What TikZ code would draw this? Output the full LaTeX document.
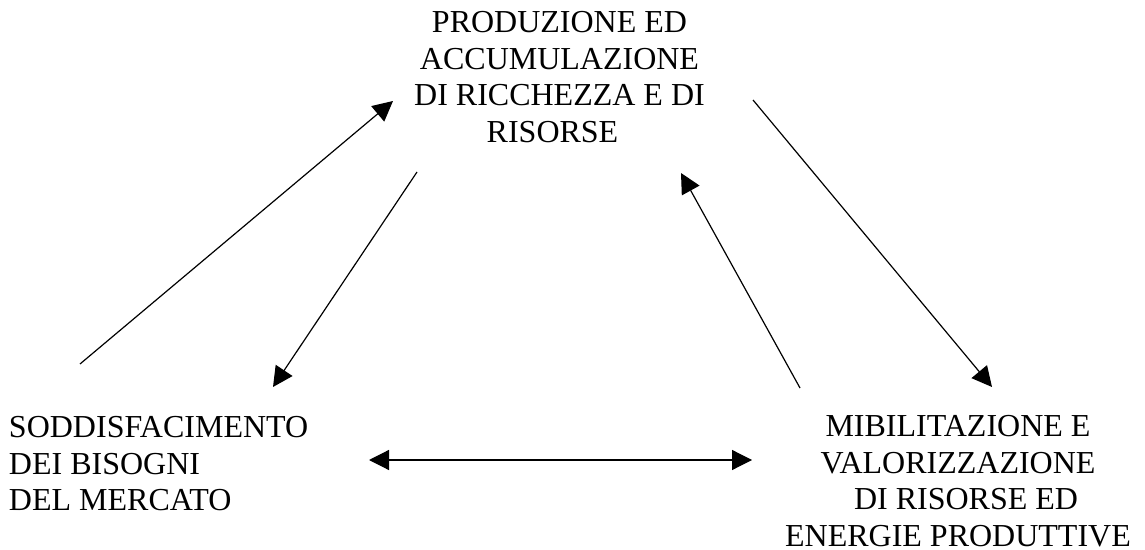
\documentclass[tikz,border=0pt]{standalone}
\usepackage{fontspec}
\setmainfont{Liberation Serif}
\usetikzlibrary{arrows.meta}
\tikzset{
  lbl/.style={inner sep=0pt, outer sep=0pt, font=\fontsize{16}{18.25}\selectfont},
  conn/.style={line width=0.6pt, -{Triangle[length=10pt,width=10pt]}},
  conn2/.style={line width=0.6pt, {Triangle[length=10pt,width=10pt]}-{Triangle[length=10pt,width=10pt]}}
}
\begin{document}
\begin{tikzpicture}[x=0.5pt,y=-0.5pt]
\useasboundingbox (0,0) rectangle (1145,550);
\node[lbl, align=center, anchor=north] (prod) at (559.5,11.5)
  {PRODUZIONE ED\\ACCUMULAZIONE\hspace*{9.5pt}\\DI RICCHEZZA E DI\\RISORSE\hspace*{7pt}};
\node[lbl, align=left, anchor=north west] (sodd) at (9,416.5)
  {SODDISFACIMENTO\\DEI BISOGNI\\DEL MERCATO};
\node[lbl, align=center, anchor=north] (mobi) at (958,415.5)
  {MIBILITAZIONE E\\VALORIZZAZIONE\\\hspace*{8pt}DI RISORSE ED\\ENERGIE PRODUTTIVE};
% connector end points
\coordinate (s1) at (80,364);   \coordinate (t1) at (393,101);
\coordinate (s2) at (417,172);  \coordinate (t2) at (273,387);
\coordinate (s3) at (800,388);  \coordinate (t3) at (681,173);
\coordinate (s4) at (753,100);  \coordinate (t4) at (992,387);
\coordinate (l5) at (369,460);  \coordinate (r5) at (752,460);
\draw[conn] (s1) -- (t1);
\draw[conn] (s2) -- (t2);
\draw[conn] (s3) -- (t3);
\draw[conn] (s4) -- (t4);
\draw[conn2] (l5) -- (r5);
\end{tikzpicture}
\end{document}
